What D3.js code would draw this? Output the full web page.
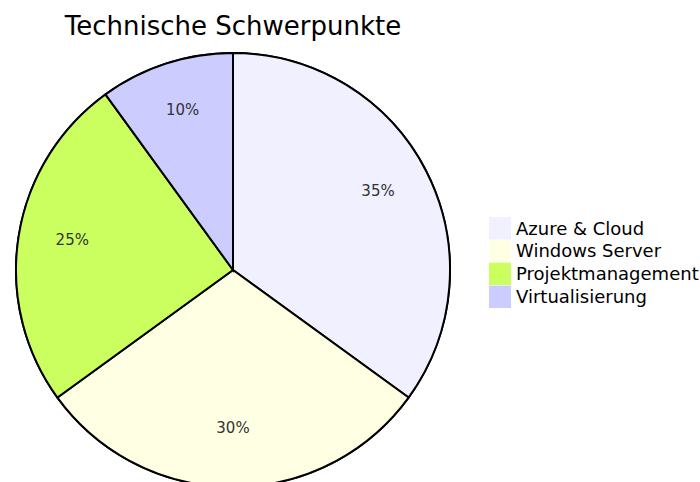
<!DOCTYPE html>
<html lang="de">
<head>
<meta charset="UTF-8">
<title>Technische Schwerpunkte</title>
<script src="https://d3js.org/d3.v7.min.js"></script>
<style>
  body { margin: 0; background: #fff; }
  svg text { font-family: "trebuchet ms", verdana, "DejaVu Sans", sans-serif; }
</style>
</head>
<body>
<svg width="700" height="482"></svg>
<script>
// Daten
const categories = ["Azure & Cloud", "Windows Server", "Projektmanagement", "Virtualisierung"];
const values = [35, 30, 25, 10];
const colors = ["#f0f0ff", "#ffffe3", "#cbff60", "#ccccff"];

const svg = d3.select("svg");
const cx = 233, cy = 270, radius = 217;

svg.append("text")
  .attr("x", cx)
  .attr("y", 35)
  .attr("text-anchor", "middle")
  .attr("font-size", "26px")
  .attr("fill", "#000")
  .text("Technische Schwerpunkte");

const data = categories.map((c, i) => ({ name: c, value: values[i] }));
const pie = d3.pie().value(d => d.value).sort(null);
const arcs = pie(data);
const arc = d3.arc().innerRadius(0).outerRadius(radius);
const labelArc = d3.arc().innerRadius(radius * 0.75).outerRadius(radius * 0.75);
const color = d3.scaleOrdinal().domain(categories).range(colors);
const total = d3.sum(values);

const g = svg.append("g").attr("transform", `translate(${cx},${cy})`);

g.append("circle")
  .attr("r", radius)
  .attr("fill", "none")
  .attr("stroke", "#000")
  .attr("stroke-width", 2);

g.selectAll("path.slice")
  .data(arcs)
  .enter().append("path")
  .attr("class", "slice")
  .attr("d", arc)
  .attr("fill", d => color(d.data.name))
  .attr("stroke", "#000")
  .attr("stroke-width", 2);

// Prozentwerte, Grundlinie auf dem Schwerpunkt (wie bei mermaid)
g.selectAll("text.pct")
  .data(arcs)
  .enter().append("text")
  .attr("class", "pct")
  .attr("transform", d => `translate(${labelArc.centroid(d)})`)
  .attr("text-anchor", "middle")
  .attr("font-size", "15px")
  .attr("fill", "#333")
  .text(d => Math.round(d.data.value / total * 100) + "%");

// Legende
const ly = d3.scaleBand().domain(categories).range([217, 308]).paddingInner(0.02);

const legend = svg.append("g");
legend.selectAll("rect")
  .data(categories)
  .enter().append("rect")
  .attr("x", 489)
  .attr("y", d => ly(d))
  .attr("width", 22)
  .attr("height", ly.bandwidth())
  .attr("fill", d => color(d));

legend.selectAll("text")
  .data(categories)
  .enter().append("text")
  .attr("x", 516)
  .attr("y", d => ly(d) + ly.bandwidth() / 2)
  .attr("dy", "0.35em")
  .attr("font-size", "18px")
  .attr("fill", "#000")
  .text(d => d);
</script>
</body>
</html>
